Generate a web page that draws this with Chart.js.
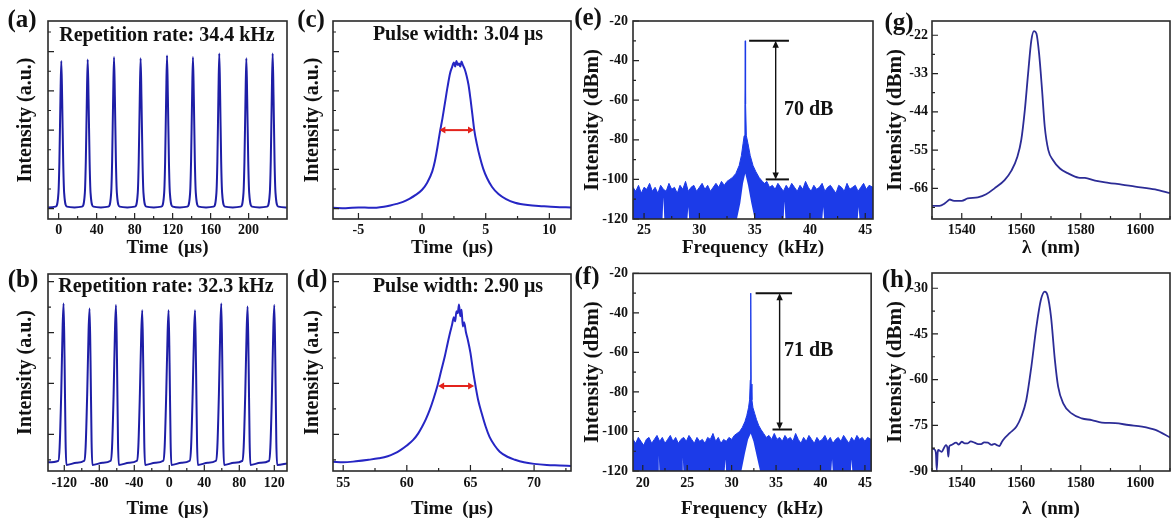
<!DOCTYPE html>
<html>
<head>
<meta charset="utf-8">
<script src="https://cdn.jsdelivr.net/npm/chart.js@4.4.1/dist/chart.umd.min.js"></script>
<style>
  html, body { margin: 0; padding: 0; background: #fff; }
  #fig { position: relative; width: 1171px; height: 521px; overflow: hidden; background: #fff; }
  #fig canvas { position: absolute; }
  .lbl { position: absolute; z-index: 5; transform: translate(-50%, -50%); white-space: nowrap;
         font-family: 'Liberation Serif', 'Times New Roman', serif; font-weight: bold; color: #111; line-height: 1; }
  .tag { font-size: 25px; }
  .head { font-size: 20px; }
  .db { font-size: 20px; transform: translate(0, -50%); }
</style>
</head>
<body>
<div id="fig">
  <div class="lbl tag" style="left:22px;top:18px">(a)</div>
  <div class="lbl tag" style="left:23px;top:278px">(b)</div>
  <div class="lbl tag" style="left:311px;top:18px">(c)</div>
  <div class="lbl tag" style="left:312px;top:278px">(d)</div>
  <div class="lbl tag" style="left:588px;top:16px">(e)</div>
  <div class="lbl tag" style="left:587px;top:275px">(f)</div>
  <div class="lbl tag" style="left:899px;top:21px">(g)</div>
  <div class="lbl tag" style="left:897px;top:278px">(h)</div>
  <div class="lbl head" style="left:167px;top:34px">Repetition rate: 34.4 kHz</div>
  <div class="lbl head" style="left:166px;top:285px">Repetition rate: 32.3 kHz</div>
  <div class="lbl head" style="left:458px;top:33px">Pulse width: 3.04 μs</div>
  <div class="lbl head" style="left:458px;top:285px">Pulse width: 2.90 μs</div>
  <div class="lbl db" style="left:784px;top:108px">70 dB</div>
  <div class="lbl db" style="left:784px;top:349px">71 dB</div>
</div>
<script>
// --- Data: (a) pulse train at 34.4 kHz ---
const aTime = [-11,
  -3.2, -0.2, 0.8, 1.9, 2.8, 3.7, 4.8, 5.8, 8.8, 16.7,
  24.6, 27.6, 28.6, 29.7, 30.6, 31.5, 32.6, 33.6, 36.6, 44.5,
  52.3, 55.3, 56.3, 57.4, 58.3, 59.2, 60.3, 61.3, 64.3, 72.3,
  80.3, 83.3, 84.3, 85.4, 86.3, 87.2, 88.3, 89.3, 92.3, 100.2,
  108.1, 111.1, 112.1, 113.2, 114.1, 115.0, 116.1, 117.1, 120.1, 127.7,
  135.4, 138.4, 139.4, 140.5, 141.4, 142.3, 143.4, 144.4, 147.4, 155.2,
  163.1, 166.1, 167.1, 168.2, 169.1, 170.0, 171.1, 172.1, 175.1, 183.3,
  191.6, 194.6, 195.6, 196.7, 197.6, 198.5, 199.6, 200.6, 203.6, 211.4,
  219.3, 222.3, 223.3, 224.4, 225.3, 226.2, 227.3, 228.3, 231.3, 240];
const aIntensity = [0.03,
  0.05, 0.4, 1.2, 2.8, 3.76, 2.8, 1.2, 0.4, 0.05, 0.03,
  0.05, 0.4, 1.2, 2.8, 3.80, 2.8, 1.2, 0.4, 0.05, 0.03,
  0.05, 0.4, 1.2, 2.85, 3.86, 2.85, 1.2, 0.4, 0.05, 0.03,
  0.05, 0.4, 1.2, 2.8, 3.83, 2.8, 1.2, 0.4, 0.05, 0.03,
  0.05, 0.4, 1.2, 2.85, 3.90, 2.85, 1.2, 0.4, 0.05, 0.03,
  0.05, 0.4, 1.2, 2.85, 3.86, 2.85, 1.2, 0.4, 0.05, 0.03,
  0.05, 0.4, 1.2, 2.9, 3.95, 2.9, 1.2, 0.4, 0.05, 0.03,
  0.05, 0.4, 1.2, 2.8, 3.83, 2.8, 1.2, 0.4, 0.05, 0.03,
  0.05, 0.4, 1.2, 2.9, 3.95, 2.9, 1.2, 0.4, 0.05, 0.03];
const aXTicks = [0, 40, 80, 120, 160, 200];
const aYTicks = [0, 1, 2, 3, 4];

// --- Data: (b) pulse train at 32.3 kHz ---
const bTime = [-139,
  -126.8, -125.3, -123.5, -121.9, -120.8, -119.7, -118.5, -117.6, -106,
  -97.1, -95.6, -93.8, -92.2, -91.1, -90.0, -88.8, -87.9, -76,
  -66.9, -65.4, -63.6, -62.0, -60.9, -59.8, -58.6, -57.7, -46,
  -36.9, -35.4, -33.6, -32.0, -30.9, -29.8, -28.6, -27.7, -16,
  -6.8, -5.3, -3.5, -1.9, -0.8, 0.3, 1.5, 2.4, 14,
  23.4, 24.9, 26.7, 28.3, 29.4, 30.5, 31.7, 32.6, 44,
  53.4, 54.9, 56.7, 58.3, 59.4, 60.5, 61.7, 62.6, 74,
  83.5, 85.0, 86.8, 88.4, 89.5, 90.6, 91.8, 92.7, 104,
  114.0, 115.5, 117.3, 118.9, 120.0, 121.1, 122.3, 123.2, 135];
const bIntensity = [0.45,
  0.48, 0.75, 1.8, 3.1, 3.57, 2.5, 0.85, 0.40, 0.44,
  0.48, 0.75, 1.8, 3.05, 3.47, 2.45, 0.85, 0.40, 0.44,
  0.48, 0.75, 1.8, 3.1, 3.54, 2.5, 0.85, 0.40, 0.44,
  0.48, 0.75, 1.8, 3.0, 3.44, 2.4, 0.85, 0.40, 0.44,
  0.48, 0.75, 1.8, 3.0, 3.44, 2.4, 0.85, 0.40, 0.44,
  0.48, 0.75, 1.8, 3.0, 3.44, 2.4, 0.85, 0.40, 0.44,
  0.48, 0.75, 1.8, 3.1, 3.57, 2.5, 0.85, 0.40, 0.44,
  0.48, 0.75, 1.8, 3.05, 3.51, 2.45, 0.85, 0.40, 0.44,
  0.48, 0.75, 1.8, 3.1, 3.54, 2.5, 0.85, 0.40, 0.43];
const bXTicks = [-120, -80, -40, 0, 40, 80, 120];
const bYTicks = [1, 2, 3, 4];

// --- Data: (c) single pulse, 3.04 us ---
const cTime = [-7, -6, -5, -4, -3, -2.5, -2, -1.5, -1, -0.5, 0, 0.4, 0.8, 1.0, 1.2,
  1.4, 1.6, 1.8, 2.0, 2.2, 2.35, 2.5, 2.6, 2.7, 2.8, 2.9, 3.0, 3.1, 3.2, 3.35,
  3.5, 3.65, 3.8, 3.95, 4.1, 4.3, 4.55, 4.8, 5.1, 5.5, 6.0, 6.6, 7.3, 8.3, 9.5, 10.5, 11.7];
const cIntensity = [0.02, 0.01, 0.03, 0.02, 0.05, 0.08, 0.12, 0.17, 0.25, 0.35, 0.48, 0.66, 0.95, 1.2, 1.55,
  1.95, 2.3, 2.7, 3.1, 3.45, 3.6, 3.72, 3.62, 3.76, 3.66, 3.7, 3.62, 3.75, 3.66, 3.55,
  3.38, 3.15, 2.8, 2.4, 2.0, 1.65, 1.3, 1.02, 0.78, 0.55, 0.37, 0.24, 0.15, 0.09, 0.06, 0.04, 0.03];
const cXTicks = [-5, 0, 5, 10];
const cFwhm = [1.36, 4.08, 2.0]; // from, to, level

// --- Data: (d) single pulse, 2.90 us ---
const dTime = [54.2, 55, 56, 57, 57.8, 58.5, 59, 59.5, 60, 60.5, 60.9, 61.2, 61.5, 61.8, 62.1,
  62.4, 62.7, 63.0, 63.2, 63.4, 63.55, 63.7, 63.8, 63.9, 64.0, 64.1, 64.2, 64.3, 64.4, 64.5,
  64.65, 64.8, 65.0, 65.2, 65.4, 65.6, 65.9, 66.2, 66.5, 66.9, 67.3, 67.9, 68.5, 69.2, 70, 71, 72, 72.9];
const dIntensity = [0.46, 0.45, 0.47, 0.5, 0.53, 0.57, 0.62, 0.69, 0.78, 0.89, 1.02, 1.15, 1.3, 1.48, 1.7,
  1.95, 2.25, 2.55, 2.78, 3.0, 3.15, 3.3, 3.22, 3.42, 3.38, 3.55, 3.32, 3.45, 3.12, 3.2,
  3.0, 2.85, 2.6, 2.25, 1.95, 1.68, 1.4, 1.15, 0.95, 0.78, 0.66, 0.56, 0.5, 0.45, 0.42, 0.4, 0.39, 0.38];
const dXTicks = [55, 60, 65, 70];
const dFwhm = [62.46, 65.29, 1.95];

// --- Data: (e) RF spectrum, 34.4 kHz ---
const eFreq = [24.0, 24.25, 24.5, 24.75, 25.0, 25.25, 25.5, 25.75, 26.0, 26.25, 26.5, 26.75,
  27.0, 27.25, 27.5, 27.75, 28.0, 28.25, 28.5, 28.75, 29.0, 29.25, 29.5, 29.75,
  30.0, 30.25, 30.5, 30.75, 31.0, 31.25, 31.5, 31.75, 32.0, 32.25, 32.5, 32.75,
  33.0, 33.3, 33.6, 33.8, 33.95, 34.05, 34.12, 34.15, 34.18, 34.25, 34.4, 34.6,
  34.85, 35.1, 35.4, 35.7, 35.9,
  36.1, 36.35, 36.6, 36.85, 37.1, 37.35, 37.6, 37.85, 38.1, 38.35, 38.6, 38.85,
  39.1, 39.35, 39.6, 39.85, 40.1, 40.35, 40.6, 40.85, 41.1, 41.35, 41.6, 41.85,
  42.1, 42.35, 42.6, 42.85, 43.1, 43.35, 43.6, 43.85, 44.1, 44.35, 44.6, 44.85,
  45.1, 45.35, 45.7];
const eNoiseTop = [-104, -106, -103, -107, -104, -105, -102, -106, -104, -107, -103, -105,
  -106, -102, -105, -104, -107, -103, -105, -101, -106, -104, -103, -106,
  -104, -102, -105, -103, -106, -104, -102, -104, -101, -103, -101, -100,
  -99, -97, -93, -88, -82, -78, -62, -30, -62, -78, -82, -88,
  -93, -96, -99, -101, -102,
  -101, -104, -103, -105, -102, -104, -106, -103, -105, -102, -104, -106,
  -103, -105, -101, -104, -106, -103, -105, -104, -102, -106, -104, -103,
  -105, -107, -103, -104, -106, -102, -105, -104, -103, -106, -104, -102,
  -105, -103, -104];
const eGapFreq = [24, 26.67, 26.75, 26.83, 28.92, 29.0, 29.08, 33.4, 33.7, 33.95, 34.15, 34.4, 34.7, 35.0,
  37.62, 37.7, 37.78, 41.12, 41.2, 41.28, 44.32, 44.4, 44.48, 45.7];
const eGapLevel = [-120, -120, -109, -120, -120, -114, -120, -120, -112, -102, -97, -103, -112, -120,
  -120, -111, -120, -120, -114, -120, -120, -114, -120, -120];
const eXTicks = [25, 30, 35, 40, 45];
const eYTicks = [-120, -100, -80, -60, -40, -20];
const eBars = [[34.5, 38.1, -30], [36.0, 38.1, -100]];
const eSpan = [36.9, -30, -100];

// --- Data: (f) RF spectrum, 32.3 kHz ---
const fFreq = [18.9, 19.2, 19.5, 19.8, 20.1, 20.4, 20.7, 21.0, 21.3, 21.6, 21.9, 22.2, 22.5, 22.8,
  23.1, 23.4, 23.7, 24.0, 24.3, 24.6, 24.9, 25.2, 25.5, 25.8, 26.1, 26.4, 26.7, 27.0,
  27.3, 27.6, 27.9, 28.2, 28.5, 28.8, 29.1, 29.4, 29.7, 30.0, 30.3, 30.6, 30.9,
  31.2, 31.5, 31.7, 31.9, 32.02, 32.1, 32.15, 32.2, 32.28, 32.4, 32.6, 32.8, 33.05, 33.3, 33.6,
  33.9, 34.2, 34.5, 34.8, 35.1, 35.4, 35.7, 36.0, 36.3, 36.6, 36.9, 37.2, 37.5, 37.8,
  38.1, 38.4, 38.7, 39.0, 39.3, 39.6, 39.9, 40.2, 40.5, 40.8, 41.1, 41.4, 41.7, 42.0,
  42.3, 42.6, 42.9, 43.2, 43.5, 43.8, 44.1, 44.4, 44.7, 45.0, 45.3, 45.7];
const fNoiseTop = [-104, -106, -103, -105, -107, -104, -103, -106, -104, -102, -105, -103, -106, -104,
  -102, -105, -103, -106, -104, -103, -105, -102, -104, -106, -103, -105, -104, -106,
  -103, -104, -101, -105, -103, -106, -104, -105, -103, -104, -102, -101, -100,
  -98, -95, -92, -88, -84, -74, -30, -76, -84, -88, -91, -94, -97, -99, -101,
  -103, -102, -104, -101, -104, -103, -105, -102, -104, -103, -105, -101, -104, -106,
  -103, -105, -102, -104, -106, -103, -105, -104, -102, -105, -103, -106, -104, -103,
  -105, -102, -104, -106, -103, -105, -102, -104, -103, -105, -103, -104];
const fGapFreq = [18.9, 21.72, 21.8, 21.88, 24.42, 24.5, 24.58, 29.22, 29.3, 29.38,
  31.1, 31.5, 31.85, 32.15, 32.45, 32.85, 33.2, 41.22, 41.3, 41.38, 43.42, 43.5, 43.58, 45.7];
const fGapLevel = [-120, -120, -112, -120, -120, -113, -120, -120, -114, -120,
  -120, -111, -104, -101, -105, -113, -120, -120, -114, -120, -120, -114, -120, -120];
const fXTicks = [20, 25, 30, 35, 40, 45];
const fBars = [[32.7, 36.8, -30], [34.6, 36.8, -99]];
const fSpan = [35.4, -30, -99];

// --- Data: (g) optical spectrum ---
const gWave = [1530, 1532.5, 1534, 1535, 1536, 1537, 1538, 1540, 1542, 1545.4,
  1548.2, 1551, 1554.4, 1556.7, 1558.7, 1560, 1561.2, 1562.3, 1563.4, 1564.3,
  1565.1, 1566, 1567, 1567.9, 1569.1, 1570.7, 1573, 1575.8, 1579.2, 1581.4,
  1584.8, 1589.3, 1593.8, 1598.3, 1605, 1610];
const gPower = [-71, -71, -70.5, -69.8, -69.2, -69.5, -69.6, -69.6, -68.9, -68.6,
  -67.7, -66, -63.6, -60.9, -56.9, -52.1, -43.5, -33, -23.4, -20.8,
  -21.5, -27.3, -37.8, -48.3, -55, -57.9, -60.3, -61.7, -62.9, -63,
  -63.8, -64.4, -64.9, -65.5, -66.3, -67.4];
const gXTicks = [1540, 1560, 1580, 1600];
const gYTicks = [-66, -55, -44, -33, -22];

// --- Data: (h) optical spectrum ---
const hWave = [1530, 1530.8, 1531.3, 1531.6, 1531.9, 1532.1, 1533.2, 1534.7, 1535.2, 1535.5,
  1535.8, 1536.4, 1538.1, 1539, 1540, 1541, 1542, 1543, 1544.3, 1545.5,
  1546.5, 1547.5, 1548.8, 1550, 1551, 1552, 1552.7, 1553.3, 1553.9, 1556.1,
  1558.4, 1560, 1561.7, 1563.4, 1565.1, 1566.6, 1567.9, 1568.8, 1570, 1571.3,
  1572.4, 1574.1, 1576.9, 1580.3, 1583.7, 1587.1, 1591.6, 1596.1, 1600.6, 1605.1, 1610];
const hPower = [-82.6, -82.9, -84, -89.7, -84, -83.1, -83.7, -81.5, -82.5, -85.3,
  -82, -81.5, -80.7, -81.3, -80.4, -80.9, -80.9, -80.3, -80.7, -81.2,
  -81.2, -80.6, -80.7, -81.4, -81.1, -81.6, -81.8, -80.8, -79.8, -77.6,
  -75.4, -72.2, -66.7, -55.7, -42.6, -33.8, -31.1, -32.2, -39.3, -53.5,
  -62.3, -67.8, -71.1, -72.7, -73.3, -74.1, -74.3, -74.9, -75.4, -76.5, -79];
const hXTicks = [1540, 1560, 1580, 1600];
const hYTicks = [-90, -75, -60, -45, -30];

// --- Helpers ---
const serif = "'Liberation Serif', 'Times New Roman', Times, serif";
const ink = '#111';
const pts = (xs, ys) => xs.map((x, i) => ({ x: x, y: ys[i] }));

function axis(o) {
  return {
    type: 'linear',
    min: o.min,
    max: o.max,
    afterBuildTicks: s => { s.ticks = o.ticks.map(v => ({ value: v })); },
    afterFit: s => { if (o.horizontal) s.height = o.size; else s.width = o.size; },
    grid: { display: false, drawTicks: false },
    border: { display: false },
    ticks: {
      display: o.labels !== false,
      autoSkip: false, maxRotation: 0, minRotation: 0,
      padding: o.labelPad || 3,
      color: ink,
      font: { family: serif, weight: 'bold', size: 14 },
      callback: v => String(v)
    },
    title: {
      display: true, text: o.title, color: ink,
      padding: o.horizontal ? { top: 0, bottom: o.titlePad } : { top: o.titlePad, bottom: 0 },
      font: { family: serif, weight: 'bold', size: o.titleSize }
    }
  };
}

// frame box plus inward major / minor ticks on bottom and left
const frameTicks = {
  id: 'frameTicks',
  afterDraw(chart) {
    const { ctx, chartArea: a } = chart;
    const sx = chart.scales.x, sy = chart.scales.y;
    ctx.save();
    ctx.strokeStyle = '#222';
    ctx.lineWidth = 1.2;
    ctx.beginPath();
    [[sx, true], [sy, false]].forEach(([s, horiz]) => {
      const vals = s.ticks.map(t => t.value);
      const minors = [];
      for (let i = 0; i < vals.length - 1; i++) minors.push((vals[i] + vals[i + 1]) / 2);
      if (vals.length > 1) {
        const step = vals[1] - vals[0];
        minors.push(vals[0] - step / 2, vals[vals.length - 1] + step / 2);
      }
      const mark = (v, len) => {
        if (v < s.min || v > s.max) return;
        const p = s.getPixelForValue(v);
        if (horiz) { ctx.moveTo(p, a.bottom); ctx.lineTo(p, a.bottom - len); }
        else { ctx.moveTo(a.left, p); ctx.lineTo(a.left + len, p); }
      };
      vals.forEach(v => mark(v, 6));
      minors.forEach(v => mark(v, 3));
    });
    ctx.stroke();
    ctx.lineWidth = 1.6;
    ctx.strokeStyle = '#2a2a2a';
    ctx.strokeRect(a.left, a.top, a.right - a.left, a.bottom - a.top);
    ctx.restore();
  }
};

function head(ctx, x, y, dx, dy, len, half) {
  ctx.beginPath();
  ctx.moveTo(x, y);
  ctx.lineTo(x - dx * len - dy * half, y - dy * len + dx * half);
  ctx.lineTo(x - dx * len + dy * half, y - dy * len - dx * half);
  ctx.closePath();
  ctx.fill();
}

function doubleArrow(ctx, x1, y1, x2, y2, color, width, len, half) {
  const d = Math.hypot(x2 - x1, y2 - y1), dx = (x2 - x1) / d, dy = (y2 - y1) / d;
  ctx.save();
  ctx.strokeStyle = color;
  ctx.fillStyle = color;
  ctx.lineWidth = width;
  ctx.beginPath();
  ctx.moveTo(x1 + dx * len * 0.8, y1 + dy * len * 0.8);
  ctx.lineTo(x2 - dx * len * 0.8, y2 - dy * len * 0.8);
  ctx.stroke();
  head(ctx, x2, y2, dx, dy, len, half);
  head(ctx, x1, y1, -dx, -dy, len, half);
  ctx.restore();
}

function markers(id, opts) {
  return {
    id: id,
    afterDatasetsDraw(chart) {
      const { ctx } = chart;
      const x = chart.scales.x, y = chart.scales.y;
      (opts.bars || []).forEach(b => {
        ctx.save();
        ctx.strokeStyle = '#111';
        ctx.lineWidth = 2;
        ctx.beginPath();
        ctx.moveTo(x.getPixelForValue(b[0]), y.getPixelForValue(b[2]));
        ctx.lineTo(x.getPixelForValue(b[1]), y.getPixelForValue(b[2]));
        ctx.stroke();
        ctx.restore();
      });
      if (opts.span) {
        const px = x.getPixelForValue(opts.span[0]);
        doubleArrow(ctx, px, y.getPixelForValue(opts.span[1]), px, y.getPixelForValue(opts.span[2]), '#111', 1.4, 7, 3.2);
      }
      if (opts.fwhm) {
        const py = y.getPixelForValue(opts.fwhm[2]);
        doubleArrow(ctx, x.getPixelForValue(opts.fwhm[0]), py, x.getPixelForValue(opts.fwhm[1]), py, '#e3231c', 2, 6, 3.5);
      }
    }
  };
}

const trace = (xs, ys, color, width) => ({
  data: pts(xs, ys), borderColor: color, borderWidth: width, fill: false,
  cubicInterpolationMode: 'monotone', pointRadius: 0
});
const noise = (xs, ys, color) => ({
  data: pts(xs, ys), borderColor: color, borderWidth: 1, backgroundColor: color,
  fill: { value: -120 }, pointRadius: 0, order: 1
});
const gaps = (xs, ys) => ({
  data: pts(xs, ys), borderWidth: 0, borderColor: 'rgba(0,0,0,0)', backgroundColor: '#fff',
  fill: { value: -120 }, pointRadius: 0, order: 0
});

const fig = document.getElementById('fig');
function makeChart(box, pad, xAxis, yAxis, datasets, extra) {
  const c = document.createElement('canvas');
  c.width = box[2];
  c.height = box[3];
  c.style.left = box[0] + 'px';
  c.style.top = box[1] + 'px';
  c.style.width = box[2] + 'px';
  c.style.height = box[3] + 'px';
  fig.appendChild(c);
  return new Chart(c, {
    type: 'line',
    data: { datasets: datasets },
    options: {
      responsive: false, animation: false, devicePixelRatio: 1,
      layout: { padding: { top: pad[0], right: pad[1], bottom: 0, left: 0 } },
      plugins: { legend: { display: false }, tooltip: { enabled: false } },
      elements: { point: { radius: 0 } },
      scales: { x: xAxis, y: yAxis }
    },
    plugins: extra ? [frameTicks, extra] : [frameTicks]
  });
}

const pulseBlue = '#1e1ea6';
const traceBlue = '#2626c4';
const rfBlue = '#1c3be8';
const optBlue = '#2c2c96';
const timeTitle = 'Time  (\u03bcs)';
const freqTitle = 'Frequency  (kHz)';
const waveTitle = '\u03bb  (nm)';

// --- Top row ---
makeChart([0, 0, 290, 260], [21, 3],
  axis({ min: -11.2, max: 240.4, ticks: aXTicks, horizontal: true, size: 41, labelPad: 3, title: timeTitle, titlePad: 1, titleSize: 19 }),
  axis({ min: -0.265, max: 4.78, ticks: aYTicks, size: 48, labels: false, title: 'Intensity (a.u.)', titlePad: 14, titleSize: 20 }),
  [trace(aTime, aIntensity, pulseBlue, 2)]);

makeChart([290, 0, 288, 260], [21, 7],
  axis({ min: -7, max: 11.7, ticks: cXTicks, horizontal: true, size: 41, labelPad: 3, title: timeTitle, titlePad: 1, titleSize: 19 }),
  axis({ min: -0.265, max: 4.78, ticks: aYTicks, size: 43, labels: false, title: 'Intensity (a.u.)', titlePad: 11, titleSize: 20 }),
  [trace(cTime, cIntensity, traceBlue, 2)],
  markers('cMarks', { fwhm: cFwhm }));

makeChart([578, 0, 298, 260], [21, 3],
  axis({ min: 24, max: 45.7, ticks: eXTicks, horizontal: true, size: 41, labelPad: 3, title: freqTitle, titlePad: 1, titleSize: 19 }),
  axis({ min: -120, max: -20, ticks: eYTicks, size: 55, labelPad: 5, title: 'Intensity (dBm)', titlePad: 2, titleSize: 21 }),
  [gaps(eGapFreq, eGapLevel), noise(eFreq, eNoiseTop, rfBlue)],
  markers('eMarks', { bars: eBars, span: eSpan }));

makeChart([870, 0, 301, 260], [21, 1],
  axis({ min: 1530, max: 1610, ticks: gXTicks, horizontal: true, size: 41, labelPad: 3, title: waveTitle, titlePad: 1, titleSize: 19 }),
  axis({ min: -74.8, max: -17.9, ticks: gYTicks, size: 62, labelPad: 4, title: 'Intensity (dBm)', titlePad: 13, titleSize: 21 }),
  [trace(gWave, gPower, optBlue, 1.8)]);

// --- Bottom row ---
makeChart([0, 260, 290, 261], [14, 3],
  axis({ min: -138.6, max: 134.5, ticks: bXTicks, horizontal: true, size: 50, labelPad: 4, title: timeTitle, titlePad: 1, titleSize: 19 }),
  axis({ min: 0.28, max: 4.15, ticks: bYTicks, size: 48, labels: false, title: 'Intensity (a.u.)', titlePad: 14, titleSize: 20 }),
  [trace(bTime, bIntensity, pulseBlue, 2)]);

makeChart([290, 260, 288, 261], [14, 7],
  axis({ min: 54.2, max: 72.9, ticks: dXTicks, horizontal: true, size: 50, labelPad: 4, title: timeTitle, titlePad: 1, titleSize: 19 }),
  axis({ min: 0.28, max: 4.15, ticks: bYTicks, size: 43, labels: false, title: 'Intensity (a.u.)', titlePad: 11, titleSize: 20 }),
  [trace(dTime, dIntensity, traceBlue, 2)],
  markers('dMarks', { fwhm: dFwhm }));

makeChart([578, 260, 298, 261], [13, 3],
  axis({ min: 18.9, max: 45.7, ticks: fXTicks, horizontal: true, size: 50, labelPad: 4, title: freqTitle, titlePad: 1, titleSize: 19 }),
  axis({ min: -120, max: -20, ticks: eYTicks, size: 55, labelPad: 5, title: 'Intensity (dBm)', titlePad: 2, titleSize: 21 }),
  [gaps(fGapFreq, fGapLevel), noise(fFreq, fNoiseTop, rfBlue)],
  markers('fMarks', { bars: fBars, span: fSpan }));

makeChart([870, 260, 301, 261], [13, 1],
  axis({ min: 1530, max: 1610, ticks: hXTicks, horizontal: true, size: 50, labelPad: 4, title: waveTitle, titlePad: 1, titleSize: 19 }),
  axis({ min: -90, max: -25, ticks: hYTicks, size: 62, labelPad: 4, title: 'Intensity (dBm)', titlePad: 13, titleSize: 21 }),
  [trace(hWave, hPower, optBlue, 1.8)]);
</script>
</body>
</html>
